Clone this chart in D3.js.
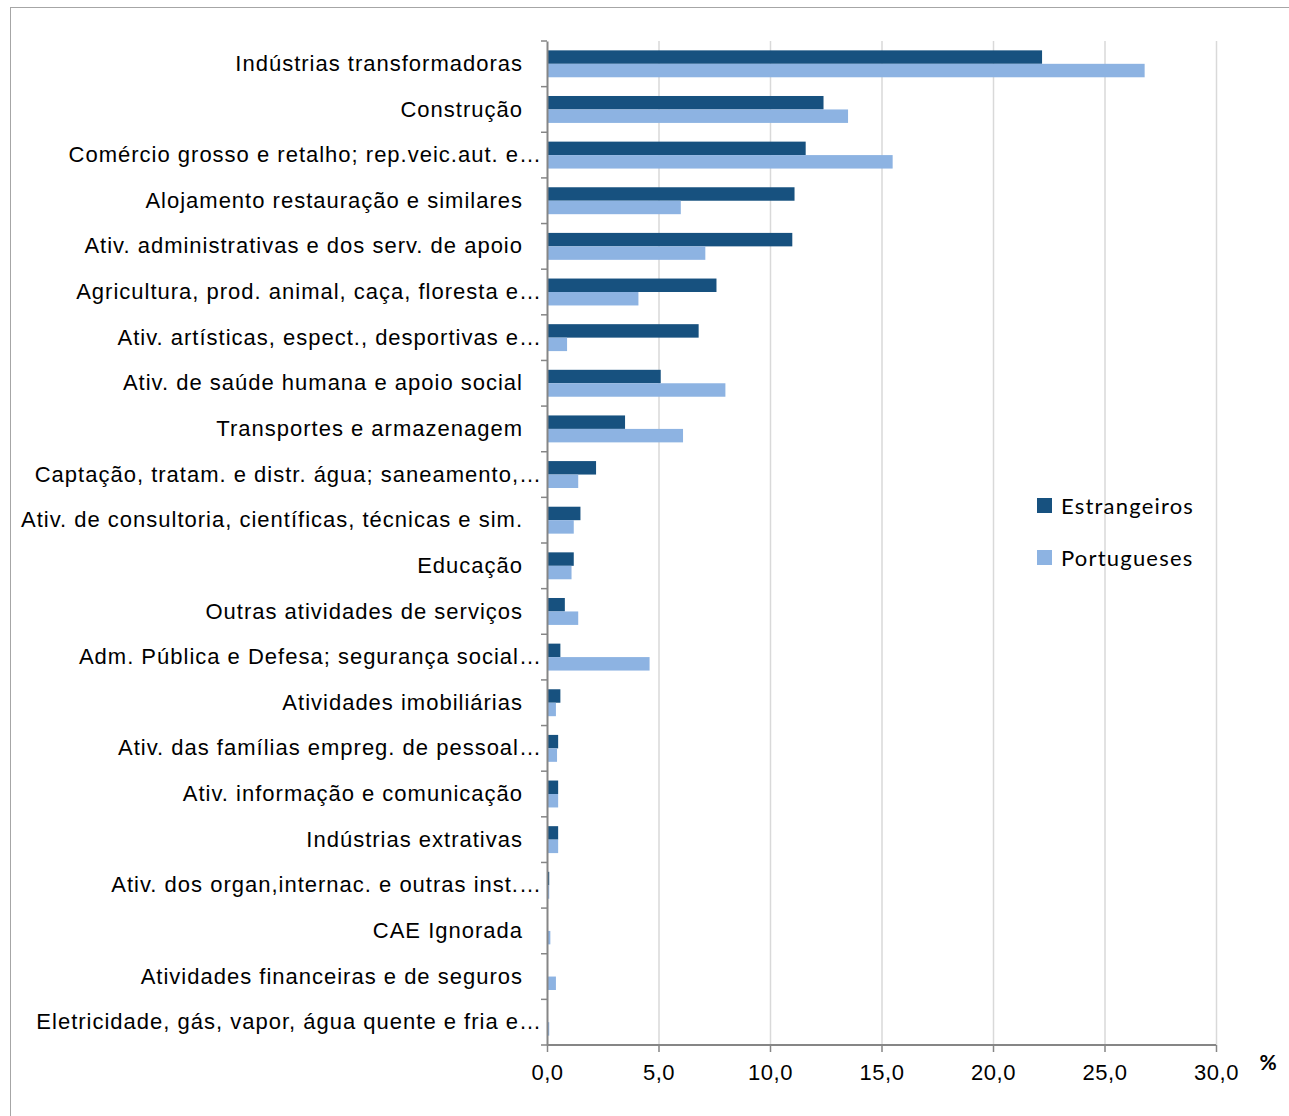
<!DOCTYPE html>
<html>
<head>
<meta charset="utf-8">
<script src="https://cdn.jsdelivr.net/npm/d3@7"></script>
<style>
  html, body { margin: 0; padding: 0; background: #fff; }
  svg { display: block; font-family: Lato, "Open Sans", sans-serif; }
</style>
</head>
<body>
<svg id="chart" width="1289" height="1116"></svg>
<script>
// Sectors of activity, ordered as drawn top to bottom
const categories = [
  "Indústrias transformadoras",
  "Construção",
  "Comércio grosso e retalho; rep.veic.aut. e…",
  "Alojamento restauração e similares",
  "Ativ. administrativas e dos serv. de apoio",
  "Agricultura, prod. animal, caça, floresta e…",
  "Ativ. artísticas, espect., desportivas e…",
  "Ativ. de saúde humana e apoio social",
  "Transportes e armazenagem",
  "Captação, tratam. e distr. água; saneamento,…",
  "Ativ. de consultoria, científicas, técnicas e sim.",
  "Educação",
  "Outras atividades de serviços",
  "Adm. Pública e Defesa; segurança social…",
  "Atividades imobiliárias",
  "Ativ. das famílias empreg. de pessoal…",
  "Ativ. informação e comunicação",
  "Indústrias extrativas",
  "Ativ. dos organ,internac. e outras inst.…",
  "CAE Ignorada",
  "Atividades financeiras e de seguros",
  "Eletricidade, gás, vapor, água quente e fria e…"
];

// Share of workers (%) by nationality
const estrangeiros = [22.2, 12.4, 11.6, 11.1, 11.0, 7.6, 6.8, 5.1, 3.5, 2.2, 1.5, 1.2, 0.8, 0.6, 0.6, 0.5, 0.5, 0.5, 0.1, 0.0, 0.0, 0.0];
const portugueses  = [26.8, 13.5, 15.5, 6.0, 7.1, 4.1, 0.9, 8.0, 6.1, 1.4, 1.2, 1.1, 1.4, 4.6, 0.4, 0.45, 0.5, 0.5, 0.1, 0.15, 0.4, 0.1];

const seriesNames = ["Estrangeiros", "Portugueses"];
const seriesColors = ["#17517f", "#8db3e2"];
const tickValues = [0, 5, 10, 15, 20, 25, 30];
const fmt = d => d3.format(".1f")(d).replace(".", ",");

const svg = d3.select("#chart");
const plot = { left: 547, right: 1216, top: 41, bottom: 1045 };
const fontSize = 22;
const spacing = 1;

// Outer chart frame
svg.append("rect")
  .attr("x", 10.5).attr("y", 7.5)
  .attr("width", 1400).attr("height", 1300)
  .attr("fill", "none").attr("stroke", "#a6a6a6").attr("stroke-width", 1);

const x = d3.scaleLinear().domain([0, 30]).range([plot.left, plot.right]);
const y = d3.scaleBand().domain(categories).range([plot.top, plot.bottom]).paddingInner(0.41).paddingOuter(0.205);
const ySub = d3.scaleBand().domain(seriesNames).range([0, y.bandwidth()]);

// Vertical gridlines
svg.append("g").selectAll("line")
  .data(tickValues.slice(1))
  .join("line")
  .attr("x1", d => x(d) + 0.5).attr("x2", d => x(d) + 0.5)
  .attr("y1", plot.top).attr("y2", plot.bottom)
  .attr("stroke", "#d9d9d9").attr("stroke-width", 1.5);

// Bars
const rows = categories.map((c, i) => ({ c, vals: [estrangeiros[i], portugueses[i]] }));
const groups = svg.append("g").selectAll("g")
  .data(rows)
  .join("g")
  .attr("transform", d => `translate(0,${y(d.c)})`);

groups.selectAll("rect")
  .data(d => d.vals.map((v, k) => ({ v, k })))
  .join("rect")
  .attr("x", x(0))
  .attr("y", d => ySub(seriesNames[d.k]))
  .attr("width", d => x(d.v) - x(0))
  .attr("height", ySub.bandwidth())
  .attr("fill", d => seriesColors[d.k]);

// Category axis (left); truncated labels run closer to the axis
const yAxis = d3.axisLeft(y).tickSize(0).tickPadding(24);
const gy = svg.append("g").attr("transform", `translate(${plot.left},0)`).call(yAxis);
gy.select(".domain").attr("stroke", "#868686").attr("stroke-width", 2);
gy.selectAll("text")
  .attr("font-size", fontSize).attr("letter-spacing", spacing).attr("fill", "#000")
  .attr("x", d => d.endsWith("…") ? -5 : -24);

// Category separator ticks
const step = (plot.bottom - plot.top) / categories.length;
svg.append("g").selectAll("line")
  .data(d3.range(categories.length + 1))
  .join("line")
  .attr("x1", plot.left - 6).attr("x2", plot.left)
  .attr("y1", i => plot.top + i * step).attr("y2", i => plot.top + i * step)
  .attr("stroke", "#868686").attr("stroke-width", 1.5);

// Value axis (bottom)
const xAxis = d3.axisBottom(x).tickValues(tickValues).tickFormat(fmt).tickSize(7).tickPadding(12);
const gx = svg.append("g").attr("transform", `translate(0,${plot.bottom})`).call(xAxis);
gx.select(".domain").attr("stroke", "#868686").attr("stroke-width", 2).attr("d", `M${plot.left},0H${plot.right}`);
gx.selectAll(".tick line").attr("stroke", "#868686").attr("stroke-width", 1.5);
gx.selectAll("text").attr("font-size", fontSize).attr("letter-spacing", 0.5).attr("fill", "#000");

// Unit label
svg.append("text")
  .attr("x", 1268).attr("y", 1070)
  .attr("text-anchor", "middle")
  .attr("font-size", 21).attr("font-weight", "bold")
  .text("%");

// Legend
const legend = svg.append("g").selectAll("g")
  .data(seriesNames)
  .join("g")
  .attr("transform", (d, i) => `translate(1037,${498 + i * 52})`);
legend.append("rect").attr("width", 15).attr("height", 15).attr("fill", (d, i) => seriesColors[i]);
legend.append("text")
  .attr("x", 24).attr("y", 8).attr("dy", "0.35em")
  .attr("font-size", fontSize).attr("letter-spacing", 1.2).attr("fill", "#000")
  .text(d => d);
</script>
</body>
</html>
